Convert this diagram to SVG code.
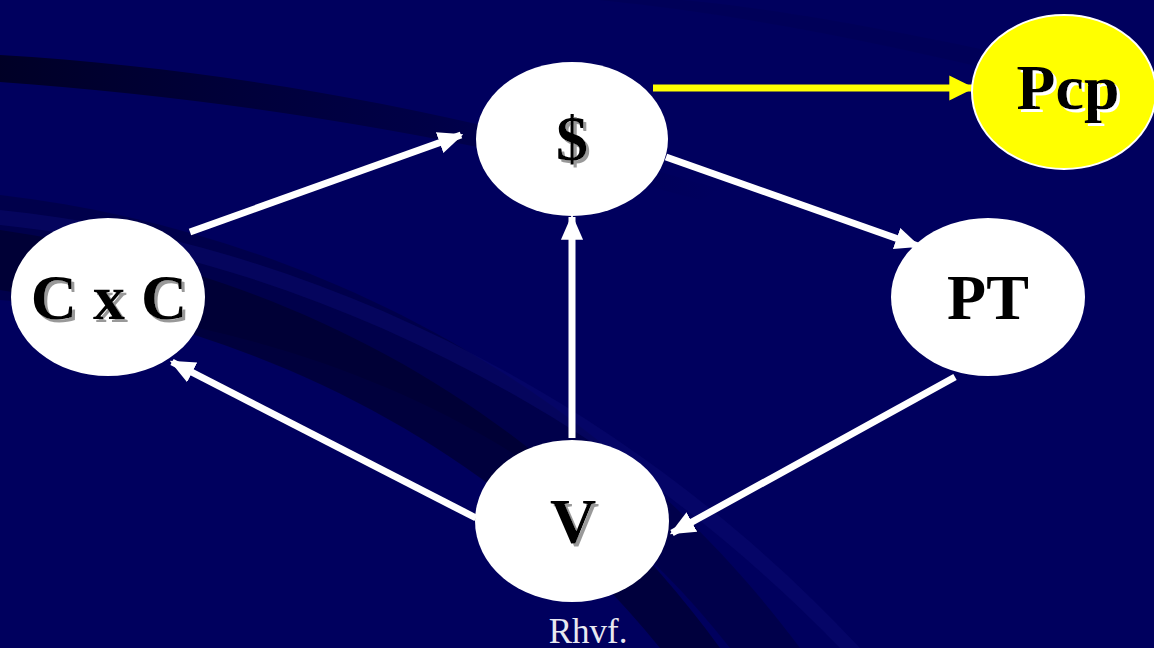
<svg xmlns="http://www.w3.org/2000/svg" width="1154" height="648" viewBox="0 0 1154 648">
<defs>
<style>
.node{fill:#ffffff}
.lbl{font-family:"Liberation Serif","Times New Roman",serif;font-weight:bold;font-size:64px;text-anchor:middle;fill:#000000}
.sh{filter:url(#gs)}
.wsh{filter:url(#ws)}
.edge{stroke:#ffffff;stroke-width:7;fill:none}
.yedge{stroke:#ffff00;stroke-width:7;fill:none}
</style>
<filter id="gs" x="-20%" y="-20%" width="140%" height="140%">
<feDropShadow dx="3" dy="3" stdDeviation="0.6" flood-color="#999999" flood-opacity="1"/>
</filter>
<filter id="ws" x="-20%" y="-20%" width="140%" height="140%">
<feDropShadow dx="3" dy="3" stdDeviation="0.4" flood-color="#ffffff" flood-opacity="1"/>
</filter>
<marker id="wa" viewBox="0 0 10 10" refX="9" refY="5" markerWidth="3.6" markerHeight="3.6" orient="auto" markerUnits="strokeWidth">
<path d="M0,0.6 L10,5 L0,9.4 z" fill="#ffffff"/>
</marker>
<marker id="ya" viewBox="0 0 10 10" refX="9" refY="5" markerWidth="3.6" markerHeight="3.6" orient="auto" markerUnits="strokeWidth">
<path d="M0,0 L10,5 L0,10 z" fill="#ffff00"/>
</marker>
<linearGradient id="fadeR" x1="0" y1="0" x2="1" y2="0">
<stop offset="0" stop-color="#000020" stop-opacity="0.9"/>
<stop offset="0.6" stop-color="#000030" stop-opacity="0.5"/>
<stop offset="1" stop-color="#000040" stop-opacity="0"/>
</linearGradient>
</defs>
<rect width="1154" height="648" fill="#00005e"/>
<g id="background">
<path d="M0,55 C250,70 500,120 720,190 L700,200 C480,140 250,100 0,82 Z" fill="url(#fadeR)"/>
<path d="M0,195 C300,230 600,380 800,648 L730,648 C560,430 300,320 0,300 Z" fill="#000040" opacity="0.6"/>
<path d="M0,230 C280,270 540,400 720,648 L660,648 C500,450 270,330 0,290 Z" fill="#000028" opacity="0.6"/>
<path d="M0,210 C300,240 620,390 860,648 L840,648 C600,400 290,255 0,225 Z" fill="#0a0a70" opacity="0.5"/>
<path d="M600,0 C800,20 1000,70 1154,110 L1154,90 C1000,50 800,10 680,0 Z" fill="#000050" opacity="0.4"/>
</g>
<g id="connectors">
<line class="yedge" x1="653" y1="88" x2="972" y2="88" marker-end="url(#ya)"/>
<line class="edge" x1="190" y1="232" x2="461" y2="135" marker-end="url(#wa)"/>
<line class="edge" x1="666" y1="157" x2="918" y2="246" marker-end="url(#wa)"/>
<line class="edge" x1="572" y1="438" x2="572" y2="217" marker-end="url(#wa)"/>
<line class="edge" x1="955" y1="377" x2="672" y2="533" marker-end="url(#wa)"/>
<line class="edge" x1="476" y1="518" x2="172" y2="362" marker-end="url(#wa)"/>
</g>
<g id="node-dollar">
<ellipse class="node" cx="572" cy="139" rx="96" ry="77"/>
<text class="lbl sh" x="572" y="160">$</text>
</g>
<g id="node-pcp">
<ellipse cx="1064" cy="92" rx="92" ry="77" fill="#ffff00" stroke="#ffffff" stroke-width="2"/>
<text class="lbl wsh" x="1068" y="109">Pcp</text>
</g>
<g id="node-cxc">
<ellipse class="node" cx="108" cy="297" rx="97" ry="79"/>
<text class="lbl sh" x="109" y="319">C x C</text>
</g>
<g id="node-pt">
<ellipse class="node" cx="988" cy="297" rx="97" ry="79"/>
<text class="lbl" x="988" y="319">PT</text>
</g>
<g id="node-v">
<ellipse class="node" cx="572" cy="521" rx="97" ry="81"/>
<text class="lbl sh" x="573" y="543">V</text>
</g>
<text x="588" y="643" font-family="'Liberation Serif','Times New Roman',serif" font-size="35" fill="#e8e8f0" text-anchor="middle">Rhvf.</text>
</svg>
